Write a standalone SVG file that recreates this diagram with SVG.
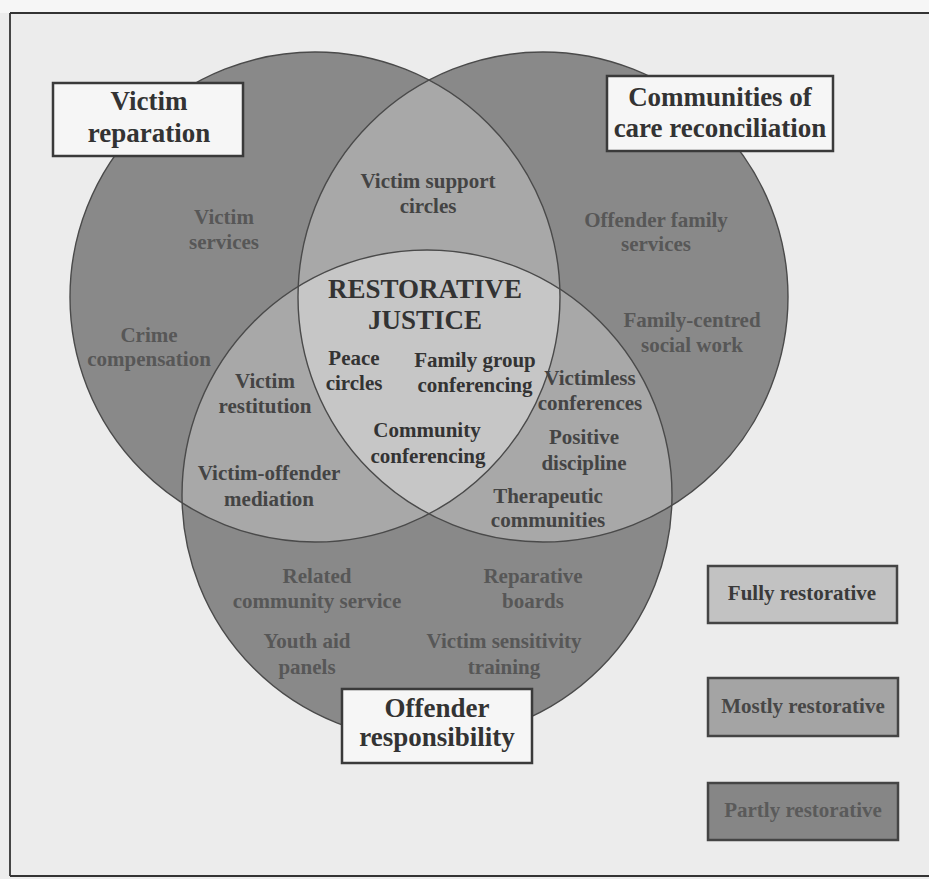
<svg xmlns="http://www.w3.org/2000/svg" width="929" height="879" viewBox="0 0 929 879">
<style>
.t{font-family:"Liberation Serif","Times New Roman",serif;font-weight:bold;text-anchor:middle}
.r{font-size:21px;fill:#575757}
.l{font-size:21px;fill:#444}
.c{font-size:21px;fill:#333}
.big{font-size:27px;fill:#333}
.box{fill:#f6f6f6;stroke:#3a3a3a;stroke-width:2.5}
.leg{font-size:21px}
.ring{fill:none;stroke:#4a4a4a;stroke-width:1.4}
</style>
<defs>
<clipPath id="cL"><circle cx="315" cy="297" r="245"/></clipPath>
<clipPath id="cR"><circle cx="543" cy="297" r="245"/></clipPath>
<clipPath id="cB"><circle cx="427" cy="495" r="245"/></clipPath>
</defs>
<rect x="0" y="0" width="929" height="879" fill="#ececec"/>
<rect x="0" y="0" width="929" height="13" fill="#f6f6f6"/>
<g id="frame" stroke="#333" stroke-width="1.8" fill="none">
<line x1="10" y1="13" x2="929" y2="13"/>
<line x1="10" y1="13" x2="10" y2="876"/>
<line x1="10" y1="876" x2="929" y2="876"/>
</g>
<g id="venn">
<circle cx="315" cy="297" r="245" fill="#898989"/>
<circle cx="543" cy="297" r="245" fill="#898989"/>
<circle cx="427" cy="495" r="245" fill="#898989"/>
<circle cx="315" cy="297" r="245" fill="#a8a8a8" clip-path="url(#cR)"/>
<circle cx="315" cy="297" r="245" fill="#a8a8a8" clip-path="url(#cB)"/>
<circle cx="543" cy="297" r="245" fill="#a8a8a8" clip-path="url(#cB)"/>
<g clip-path="url(#cR)"><circle cx="315" cy="297" r="245" fill="#c6c6c6" clip-path="url(#cB)"/></g>
<circle class="ring" cx="315" cy="297" r="245"/>
<circle class="ring" cx="543" cy="297" r="245"/>
<circle class="ring" cx="427" cy="495" r="245"/>
</g>
<g id="center">
<text class="t big" x="425" y="298">RESTORATIVE</text>
<text class="t big" x="425" y="329">JUSTICE</text>
<text class="t c" x="354" y="365">Peace</text>
<text class="t c" x="354" y="390">circles</text>
<text class="t c" x="475" y="367">Family group</text>
<text class="t c" x="475" y="392">conferencing</text>
<text class="t c" x="427" y="437">Community</text>
<text class="t c" x="428" y="463">conferencing</text>
</g>
<g id="lens-top">
<text class="t l" x="428" y="188">Victim support</text>
<text class="t l" x="428" y="213">circles</text>
</g>
<g id="lens-left">
<text class="t l" x="265" y="388">Victim</text>
<text class="t l" x="265" y="413">restitution</text>
<text class="t l" x="269" y="480">Victim-offender</text>
<text class="t l" x="269" y="506">mediation</text>
</g>
<g id="lens-right">
<text class="t l" x="590" y="385">Victimless</text>
<text class="t l" x="590" y="410">conferences</text>
<text class="t l" x="584" y="444">Positive</text>
<text class="t l" x="584" y="470">discipline</text>
<text class="t l" x="548" y="503">Therapeutic</text>
<text class="t l" x="548" y="527">communities</text>
</g>
<g id="victim-only">
<text class="t r" x="224" y="224">Victim</text>
<text class="t r" x="224" y="249">services</text>
<text class="t r" x="149" y="342">Crime</text>
<text class="t r" x="149" y="366">compensation</text>
</g>
<g id="community-only">
<text class="t r" x="656" y="227">Offender family</text>
<text class="t r" x="656" y="251">services</text>
<text class="t r" x="692" y="327">Family-centred</text>
<text class="t r" x="692" y="352">social work</text>
</g>
<g id="offender-only">
<text class="t r" x="317" y="583">Related</text>
<text class="t r" x="317" y="608">community service</text>
<text class="t r" x="533" y="583">Reparative</text>
<text class="t r" x="533" y="608">boards</text>
<text class="t r" x="307" y="648">Youth aid</text>
<text class="t r" x="307" y="674">panels</text>
<text class="t r" x="504" y="648">Victim sensitivity</text>
<text class="t r" x="504" y="674">training</text>
</g>
<g id="victim-reparation">
<rect class="box" x="53" y="83" width="190" height="73"/>
<text class="t big" x="149" y="110">Victim</text>
<text class="t big" x="149" y="142">reparation</text>
</g>
<g id="communities-of-care">
<rect class="box" x="607" y="76" width="226" height="75"/>
<text class="t big" x="720" y="106">Communities of</text>
<text class="t big" x="720" y="137">care reconciliation</text>
</g>
<g id="offender-responsibility">
<rect class="box" x="342" y="689" width="190" height="74"/>
<text class="t big" x="437" y="717">Offender</text>
<text class="t big" x="437" y="746">responsibility</text>
</g>
<g id="legend-fully">
<rect x="708" y="566" width="189" height="57" fill="#c2c2c2" stroke="#444" stroke-width="2.5"/>
<text class="t leg" x="802" y="600" fill="#3a3a3a">Fully restorative</text>
</g>
<g id="legend-mostly">
<rect x="708" y="678" width="190" height="58" fill="#a4a4a4" stroke="#444" stroke-width="2.5"/>
<text class="t leg" x="803" y="713" fill="#474747">Mostly restorative</text>
</g>
<g id="legend-partly">
<rect x="708" y="783" width="190" height="57" fill="#868686" stroke="#444" stroke-width="2.5"/>
<text class="t leg" x="803" y="817" fill="#5a5a5a">Partly restorative</text>
</g>
</svg>
